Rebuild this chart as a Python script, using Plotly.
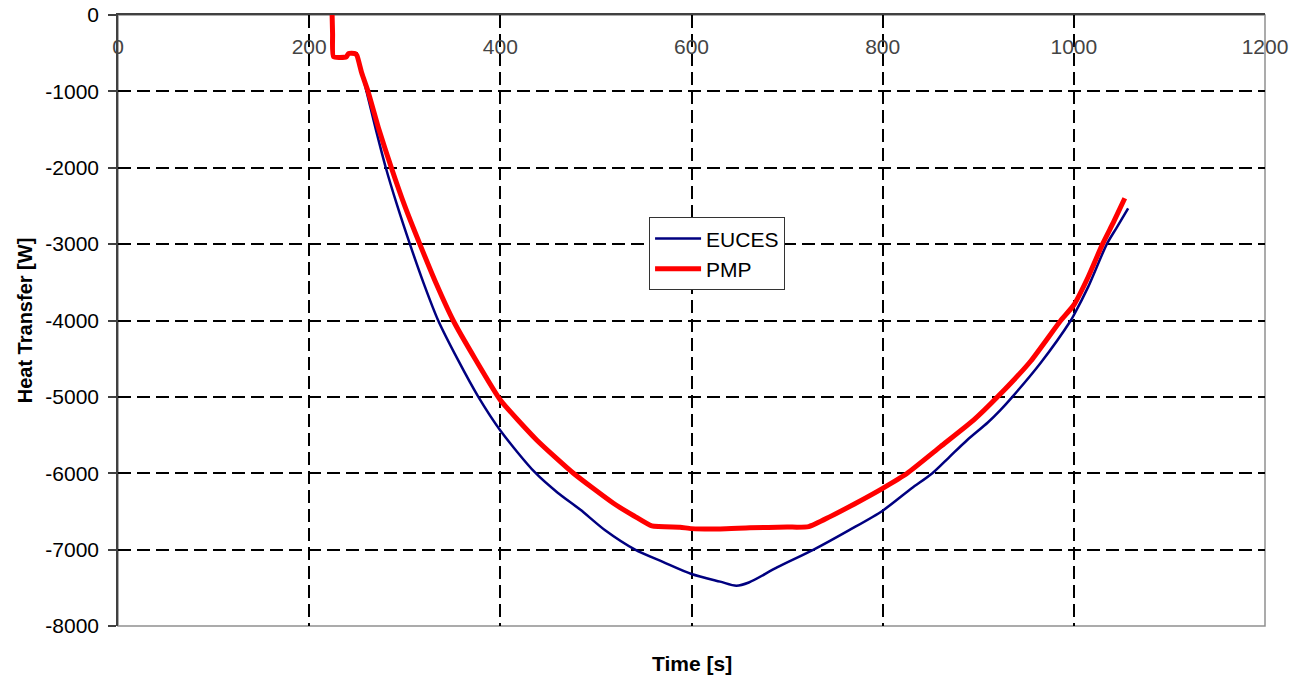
import plotly.graph_objects as go

# ---- data ----
euces_x = [249.5, 255, 260, 270, 280.2, 292, 305.4, 320, 335, 355, 377, 400, 436.3, 460, 483.5,
           510, 541, 570, 600, 630, 647, 660, 690, 727.8, 765, 800, 830, 852, 870, 888.5, 910,
           923.4, 935.7, 965, 996.8, 1000, 1015, 1034.5, 1045, 1056.8]
euces_y = [-489, -750, -1000, -1510, -2000, -2490, -3000, -3520, -4000, -4500, -5000, -5440, -5990,
           -6255, -6475, -6750, -7000, -7160, -7319, -7419, -7472, -7430, -7230, -7000, -6745,
           -6490, -6200, -6000, -5785, -5564, -5335, -5170, -5000, -4560, -4000, -3930, -3560,
           -3000, -2780, -2531]

pmp_x = [224, 224.5, 225.5, 239, 241, 248, 250, 255, 261.6, 273, 286, 300, 315.8, 333, 350.7, 374,
         400, 438, 476.5, 518.3, 540, 558.5, 588, 600, 630, 661, 700, 722.6, 745, 770, 800, 825.7,
         860.5, 895.4, 921, 955, 986.3, 1000, 1015, 1030, 1042, 1053.3]
pmp_y = [0, -250, -546, -546, -505, -505, -530, -760, -1000, -1500, -2000, -2500, -3000, -3520,
         -4000, -4510, -5040, -5564, -6000, -6393, -6560, -6690, -6707, -6725, -6730, -6715, -6705,
         -6699, -6568, -6405, -6197, -6000, -5652, -5302, -4990, -4530, -4000, -3797, -3430, -3000,
         -2700, -2400]

x_ticks = [0, 200, 400, 600, 800, 1000, 1200]
y_ticks = [0, -1000, -2000, -3000, -4000, -5000, -6000, -7000, -8000]

FONT = "Liberation Sans, Arial, sans-serif"

fig = go.Figure()
fig.add_trace(go.Scatter(x=euces_x, y=euces_y, mode="lines", name="EUCES",
                         line=dict(color="#000080", width=2.5, shape="spline", smoothing=0.8),
                         legendgroup="a"))
fig.add_trace(go.Scatter(x=pmp_x, y=pmp_y, mode="lines", name="PMP",
                         line=dict(color="#FF0000", width=5, shape="spline", smoothing=0.5),
                         legendgroup="b"))

grid = dict(showgrid=True, gridcolor="black", gridwidth=2, griddash="13px,6px")

fig.update_layout(
    width=1307, height=678,
    margin=dict(l=118, r=42, t=15, b=52, autoexpand=False),
    paper_bgcolor="white", plot_bgcolor="white",
    font=dict(family=FONT, size=21, color="black"),
    showlegend=True,
    legend=dict(x=0.463, y=0.669, xanchor="left", yanchor="top",
                bgcolor="white", bordercolor="#333333", borderwidth=1,
                font=dict(size=21), tracegroupgap=0, itemwidth=46),
    xaxis=dict(range=[0, 1200], tickvals=x_ticks, ticktext=[str(v) for v in x_ticks],
               side="top", ticklabelposition="inside", ticklabeloverflow="allow",
               ticklabelstandoff=26, ticks="", automargin=False,
               showline=True, linecolor="#404040", linewidth=1.5, zeroline=False, **grid),
    yaxis=dict(range=[-8000, 0], tickvals=y_ticks, ticktext=[str(v) for v in y_ticks],
               ticks="outside", ticklen=8, tickcolor="#404040", tickwidth=1.5,
               ticklabelstandoff=5,
               showline=True, linecolor="#404040", linewidth=1.5, zeroline=False,
               automargin=False,
               title=dict(text="<b>Heat Transfer [W]</b>", font=dict(size=20), standoff=7),
               **grid),
    shapes=[dict(type="rect", xref="paper", yref="paper", x0=0, x1=1, y0=0, y1=1,
                 line=dict(color="#909090", width=1.5), layer="below")],
    annotations=[dict(text="<b>Time [s]</b>", xref="paper", yref="paper", x=0.5, y=0,
                      yshift=-37, showarrow=False, font=dict(size=21), yanchor="middle")],
)

fig.write_html("out.html", config={"displayModeBar": False},
               post_script="document.body.style.margin='0';document.body.style.padding='0';")
